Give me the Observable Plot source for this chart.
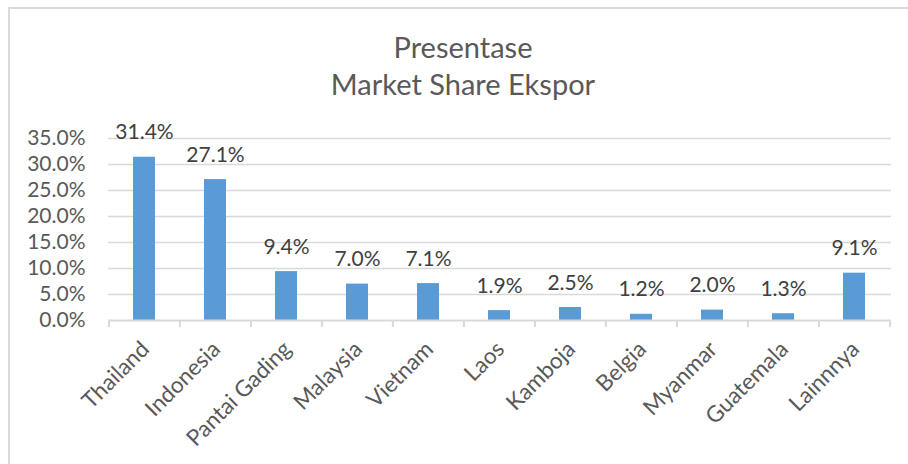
<!DOCTYPE html>
<html>
<head>
<meta charset="utf-8">
<script src="https://cdn.jsdelivr.net/npm/d3@7"></script>
<script src="https://cdn.jsdelivr.net/npm/@observablehq/plot@0.6"></script>
<style>
  html, body { margin: 0; padding: 0; background: #fff; }
  #wrap { position: relative; width: 908px; height: 464px; overflow: hidden; font-family: Lato, "Open Sans", sans-serif; }
  #frame { position: absolute; left: 8px; top: 7px; width: 1000px; height: 1000px; border: 2px solid #d9d9d9; box-sizing: border-box; }
  #title { position: absolute; left: 0; top: 28px; width: 926px; text-align: center; font-size: 29px; line-height: 37px; color: #595959; }
  #chart { position: absolute; left: 0; top: 0; }
</style>
</head>
<body>
<div id="wrap">
  <div id="frame"></div>
  <div id="chart"></div>
  <div id="title">Presentase<br>Market Share Ekspor</div>
</div>
<script>
const categories = ["Thailand", "Indonesia", "Pantai Gading", "Malaysia", "Vietnam", "Laos", "Kamboja", "Belgia", "Myanmar", "Guatemala", "Lainnnya"];
const shares = [0.314, 0.271, 0.094, 0.070, 0.071, 0.019, 0.025, 0.012, 0.020, 0.013, 0.091];
const yTicks = [0, 0.05, 0.10, 0.15, 0.20, 0.25, 0.30, 0.35];

const data = categories.map((c, i) => ({category: c, share: shares[i]}));

const W = 908, H = 464, ML = 108, MR = 17, MT = 138, MB = 144;
const step = (W - ML - MR) / categories.length;
const fmt = d3.format(".1%");

const plot = Plot.plot({
  width: W,
  height: H,
  marginLeft: ML,
  marginRight: MR,
  marginTop: MT,
  marginBottom: MB,
  style: {background: "transparent", fontFamily: "Lato, 'Open Sans', sans-serif", color: "#595959"},
  x: {domain: categories, paddingInner: 0.69, paddingOuter: 0.345, label: null},
  y: {domain: [0, 0.35], label: null},
  marks: [
    Plot.gridY(yTicks.filter(d => d > 0), {stroke: "#d9d9d9", strokeOpacity: 1, strokeWidth: 1.5}),
    Plot.axisY({ticks: yTicks, tickFormat: fmt, tickSize: 0, tickPadding: 23, fontSize: 21, fill: "#595959", label: null}),
    Plot.barY(data, {x: "category", y: "share", fill: "#5b9bd5"}),
    Plot.ruleY([0], {stroke: "#d9d9d9", strokeWidth: 2}),
    Plot.ruleX(categories, {x: d => d, y1: 0, y2: 0, insetBottom: -7, dx: -step / 2, stroke: "#d9d9d9", strokeWidth: 2}),
    Plot.ruleX(categories.slice(-1), {x: d => d, y1: 0, y2: 0, insetBottom: -7, dx: step / 2, stroke: "#d9d9d9", strokeWidth: 2}),
    Plot.text(data, {x: "category", y: "share", text: d => fmt(d.share), lineAnchor: "bottom", dy: -18, fontSize: 21, fill: "#404040"}),
    Plot.axisX({tickSize: 0, tickRotate: -45, tickPadding: 6, fontSize: 22.5, fill: "#595959", label: null, dx: 1, dy: 19})
  ]
});
document.getElementById("chart").appendChild(plot);
</script>
</body>
</html>
